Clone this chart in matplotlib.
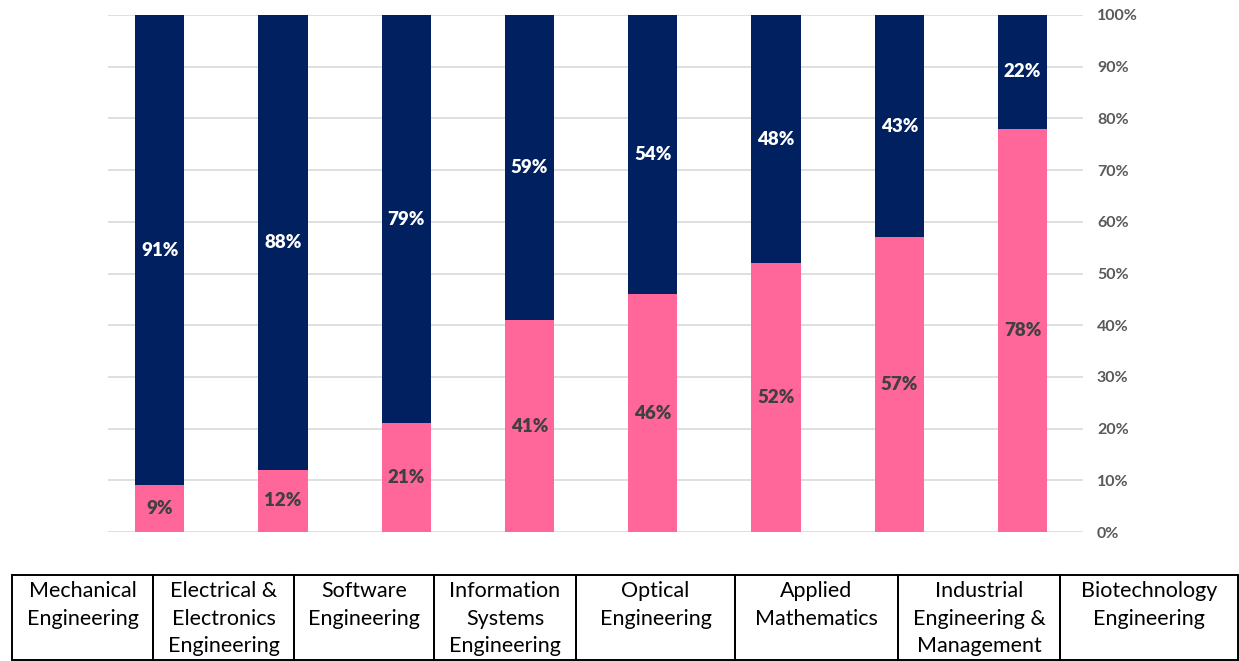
import matplotlib.pyplot as plt
from matplotlib.patches import Rectangle

# Data
programmes = ["Mechanical\nEngineering", "Electrical &\nElectronics\nEngineering",
              "Software\nEngineering", "Information\nSystems\nEngineering",
              "Optical\nEngineering", "Applied\nMathematics",
              "Industrial\nEngineering &\nManagement", "Biotechnology\nEngineering"]
female = [9, 12, 21, 41, 46, 52, 57, 78]
male = [91, 88, 79, 59, 54, 48, 43, 22]
y_ticks = [0, 10, 20, 30, 40, 50, 60, 70, 80, 90, 100]

# table column edges in pixels
col_edges = [12, 153, 294, 434, 576, 735, 898, 1060, 1238]

W, H = 1239, 661
pink = "#FF6699"
navy = "#002060"
font = "Lato"

fig = plt.figure(figsize=(W / 100, H / 100), dpi=100)

# chart area
left, right, top, bottom = 108, 1083, 15, 532
ax = fig.add_axes([left / W, 1 - bottom / H, (right - left) / W, (bottom - top) / H])

x = list(range(len(female)))
ax.bar(x, female, width=0.4, color=pink, zorder=3)
ax.bar(x, male, width=0.4, bottom=female, color=navy, zorder=3)

for i in x:
    ax.text(i, female[i] / 2, f"{female[i]}%", ha="center", va="center",
            color="#404040", fontsize=13.5, fontweight="heavy", family=font, zorder=4)
    ax.text(i, female[i] + male[i] / 2, f"{male[i]}%", ha="center", va="center",
            color="white", fontsize=13.5, fontweight="heavy", family=font, zorder=4)

ax.set_xlim(-0.42, 7.49)
ax.set_ylim(0, 100)
ax.set_yticks(y_ticks)
ax.set_yticklabels([f"{t}%" for t in y_ticks], family=font, fontsize=11.5,
                   fontweight="bold", color="#595959")
ax.yaxis.tick_right()
ax.tick_params(axis="y", length=0, pad=10)
for lbl in ax.get_yticklabels():
    lbl.set_horizontalalignment("left")
ax.set_xticks([])
ax.grid(axis="y", color="#D9D9D9", linewidth=1.2, zorder=0)
for s in ax.spines.values():
    s.set_visible(False)

# table of programme names underneath
tab = fig.add_axes([0, 0, 1, 1])
tab.set_xlim(0, W)
tab.set_ylim(H, 0)
tab.axis("off")
t_top, t_bot = 575, 660
for i, name in enumerate(programmes):
    x0, x1 = col_edges[i], col_edges[i + 1]
    tab.add_patch(Rectangle((x0, t_top), x1 - x0, t_bot - t_top, fill=False,
                            edgecolor="black", linewidth=1.4))
    tab.text((x0 + x1) / 2, t_top + 6, name, ha="center", va="top",
             fontsize=15.5, family=font, linespacing=1.47, color="black")

fig.savefig("out.png", dpi=100)
